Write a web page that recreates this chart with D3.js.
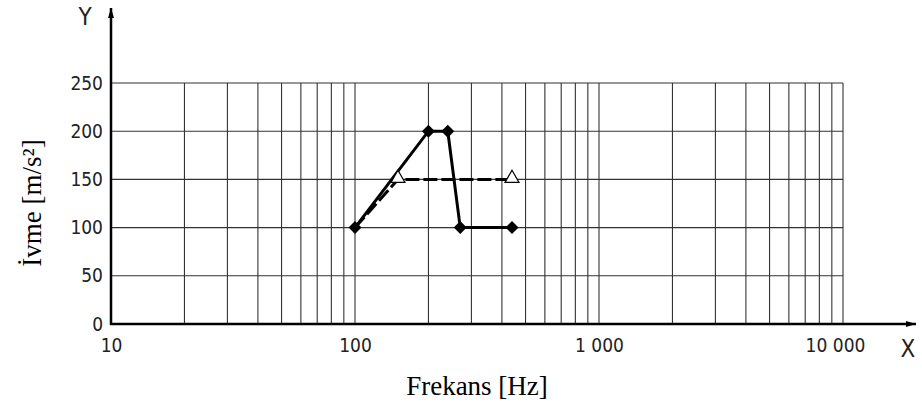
<!DOCTYPE html>
<html>
<head>
<meta charset="utf-8">
<script src="https://cdn.jsdelivr.net/npm/d3@7"></script>
<style>
  body { margin: 0; background: #fff; }
  .tick text { font-family: "DejaVu Sans Condensed", "DejaVu Sans", sans-serif; font-size: 19px; fill: #222; }
</style>
</head>
<body>
<div id="chart-area"></div>
<script>
// frequency (Hz) / acceleration (m/s²)
var solidFreq = [100, 200, 240, 270, 440];
var solidAcc = [100, 200, 200, 100, 100];
var dashFreq = [100, 150, 440];
var dashAcc = [100, 150, 150];

var xTicks = [10, 100, 1000, 10000];
var xTickLabels = ["10", "100", "1 000", "10 000"];
var yTicks = [0, 50, 100, 150, 200, 250];

var width = 922;
var height = 410;

var svg = d3.select("#chart-area")
  .append("svg")
  .attr("width", width)
  .attr("height", height);

var x = d3.scaleLog()
  .domain([10, 10000])
  .range([111, 843]);

var y = d3.scaleLinear()
  .domain([0, 250])
  .range([324, 83]);

// grid
var gridX = [];
[10, 100, 1000].forEach(d => {
  for (var i = 1; i <= 10; i++) gridX.push(d * i);
});
gridX = Array.from(new Set(gridX)).filter(d => d > 10);

svg.append("g").selectAll("line")
  .data(gridX).enter()
  .append("line")
  .attr("x1", d => x(d)).attr("x2", d => x(d))
  .attr("y1", y(0)).attr("y2", y(250))
  .attr("stroke", "#333")
  .attr("stroke-width", 1.1);

svg.append("g").selectAll("line")
  .data(yTicks.filter(d => d > 0)).enter()
  .append("line")
  .attr("x1", x(10)).attr("x2", x(10000))
  .attr("y1", d => y(d)).attr("y2", d => y(d))
  .attr("stroke", "#333")
  .attr("stroke-width", 1.1);

// axes
var leftAxis = d3.axisLeft(y).tickValues(yTicks).tickSize(0).tickPadding(8);
svg.append("g")
  .attr("transform", "translate(" + x(10) + ",0)")
  .call(leftAxis)
  .call(g => g.select(".domain").remove());

var bottomAxis = d3.axisBottom(x).tickValues(xTicks).tickSize(0).tickPadding(15)
  .tickFormat((d, i) => xTickLabels[i]);
svg.append("g")
  .attr("transform", "translate(0," + y(0) + ")")
  .call(bottomAxis)
  .call(g => g.select(".domain").remove())
  .selectAll("text")
  .attr("dx", (d, i) => i === 3 ? -8 : 0);

svg.append("defs").append("marker")
  .attr("id", "arrow")
  .attr("viewBox", "0 0 10 6")
  .attr("refX", 10).attr("refY", 3)
  .attr("markerWidth", 11).attr("markerHeight", 6)
  .attr("markerUnits", "userSpaceOnUse")
  .attr("orient", "auto")
  .append("path")
  .attr("d", "M0,0 L10,3 L0,6 Z")
  .attr("fill", "#000");

svg.append("line")
  .attr("x1", x(10)).attr("x2", x(10))
  .attr("y1", y(0) + 1).attr("y2", 8)
  .attr("stroke", "#000").attr("stroke-width", 2.5)
  .attr("marker-end", "url(#arrow)");

svg.append("line")
  .attr("x1", x(10) - 1).attr("x2", 916)
  .attr("y1", y(0)).attr("y2", y(0))
  .attr("stroke", "#000").attr("stroke-width", 2.5)
  .attr("marker-end", "url(#arrow)");

svg.append("text")
  .attr("x", 85).attr("y", 25)
  .attr("text-anchor", "middle")
  .attr("font-family", "DejaVu Sans Condensed, DejaVu Sans, sans-serif")
  .attr("font-size", "24px")
  .attr("fill", "#222")
  .text("Y");

svg.append("text")
  .attr("x", 908).attr("y", 357)
  .attr("text-anchor", "middle")
  .attr("font-family", "DejaVu Sans Condensed, DejaVu Sans, sans-serif")
  .attr("font-size", "24px")
  .attr("fill", "#222")
  .text("X");

// series
var solidData = solidFreq.map((f, i) => ({ f: f, a: solidAcc[i] }));
var dashData = dashFreq.map((f, i) => ({ f: f, a: dashAcc[i] }));

var line = d3.line().x(d => x(d.f)).y(d => y(d.a));

svg.append("path")
  .datum(dashData)
  .attr("d", line)
  .attr("fill", "none")
  .attr("stroke", "#000")
  .attr("stroke-width", 3)
  .attr("stroke-dasharray", "14,4");

svg.append("path")
  .datum(solidData)
  .attr("d", line)
  .attr("fill", "none")
  .attr("stroke", "#000")
  .attr("stroke-width", 3);

svg.append("g").selectAll("path")
  .data(dashData.slice(1)).enter()
  .append("path")
  .attr("d", d3.symbol().type(d3.symbolTriangle).size(85))
  .attr("transform", d => "translate(" + x(d.f) + "," + (y(d.a) - 1) + ")")
  .attr("fill", "#fff")
  .attr("stroke", "#000")
  .attr("stroke-width", 1.2);

svg.append("g").selectAll("path")
  .data(solidData).enter()
  .append("path")
  .attr("d", "M0,-6.5 L6.5,0 L0,6.5 L-6.5,0 Z")
  .attr("transform", d => "translate(" + x(d.f) + "," + y(d.a) + ")")
  .attr("fill", "#000");

// axis titles
svg.append("text")
  .attr("x", 477).attr("y", 395)
  .attr("text-anchor", "middle")
  .attr("font-family", "Liberation Serif, serif")
  .attr("font-size", "27px")
  .text("Frekans [Hz]");

svg.append("text")
  .attr("transform", "translate(41,203) rotate(-90)")
  .attr("text-anchor", "middle")
  .attr("font-family", "Liberation Serif, serif")
  .attr("font-size", "27px")
  .text("İvme [m/s²]");
</script>
</body>
</html>
